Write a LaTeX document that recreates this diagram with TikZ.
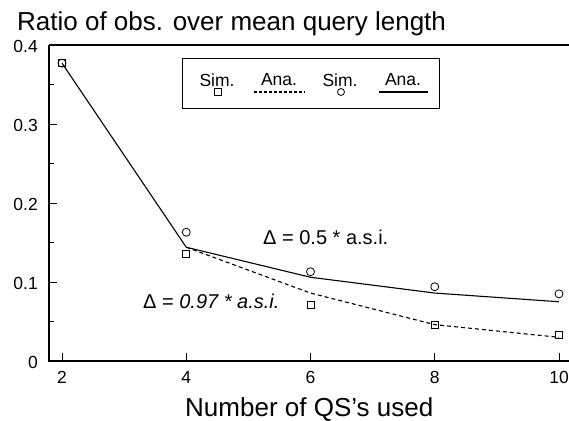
\documentclass[tikz,border=0pt]{standalone}
\usepackage{fontspec}
\setmainfont{Liberation Sans}
\begin{document}
\begin{tikzpicture}[x=1pt,y=1pt,
  lbl/.style={font=\fontsize{17.5}{20}\selectfont, inner sep=0pt},
  big/.style={font=\fontsize{26}{30}\selectfont, inner sep=0pt},
  note/.style={font=\fontsize{20}{23}\selectfont, inner sep=0pt},
  sqmark/.style={draw, rectangle, minimum size=7pt, inner sep=0pt, line width=0.8pt},
  cimark/.style={draw, circle, minimum size=8pt, inner sep=0pt, line width=0.8pt},
  anaB/.style={line width=1.1pt},
  anaA/.style={line width=1.1pt, dash pattern=on 4pt off 3pt},
  axisline/.style={line width=1.8pt},
  tickline/.style={line width=0.9pt}]
\useasboundingbox (0,0) rectangle (569,420);
\node[big, anchor=base west] (title) at (17,389) {Ratio of obs. over mean query length};
\node[big, anchor=base west] (xlab) at (185,4) {Number of QS’s used};
\begin{scope}[shift={(-62.25,59)}, x=62.125pt, y=790pt]
  \coordinate (tl) at (1.791,0.4);
  \coordinate (bl) at (1.791,0);
  \coordinate (tr) at (10.2,0.4);
  \coordinate (br) at (10.2,0);
  \draw[line width=1.3pt] (tl) -- (tr);
  \draw[axisline] (tl) -- (bl) -- (br);
  \foreach \v in {0.1,0.2,0.3} \draw[tickline] (1.791,\v) -- ++(8pt,0);
  \foreach \v in {0.05,0.15,0.25,0.35} \draw[tickline] (1.791,\v) -- ++(5pt,0);
  \foreach \x in {2,4,6,8,10} {
    \draw[tickline] (\x,0) -- ++(0,8pt);
    \node[lbl] (xt\x) at (\x,0) [yshift=-16pt] {\x};
  }
  \foreach \v/\t in {0/0,0.1/0.1,0.2/0.2,0.3/0.3,0.4/0.4}
    \node[lbl, anchor=east] (yt\t) at (1.791,\v) [xshift=-11pt, yshift=-1pt] {\t};
  % analytic curves
  \draw[anaB] plot coordinates {(2,0.377) (4,0.144) (6,0.106) (8,0.086) (10,0.075)};
  \draw[anaA] plot coordinates {(4,0.144) (6,0.086) (8,0.046) (10,0.030)};
  % simulation points
  \node[sqmark] (s2) at (2,0.377) {};
  \node[sqmark] (s4) at (4,0.135) {};
  \node[sqmark] (s6) at (6,0.071) {};
  \node[sqmark] (s8) at (8,0.046) {};
  \node[sqmark] (s10) at (10,0.033) {};
  \node[cimark] (c2) at (2,0.377) {};
  \node[cimark] (c4) at (4,0.163) {};
  \node[cimark] (c6) at (6,0.113) {};
  \node[cimark] (c8) at (8,0.094) {};
  \node[cimark] (c10) at (10,0.085) {};
\end{scope}
\node[note, anchor=west] (d1) at (263,183) {Δ = 0.5 * a.s.i.};
\node[note, anchor=west] (d2) at (143,119) {Δ = \textit{0.97 * a.s.i.}};
% legend
\node[draw, line width=1.2pt, minimum width=257pt, minimum height=50pt, inner sep=0pt, anchor=north west] (leg) at (182,362) {};
\node[lbl] (l1) at (217,340) {Sim.};
\node[sqmark, minimum size=6.5pt] (l1m) at (218,328) {};
\node[lbl] (l2) at (279,340) {Ana.};
\coordinate (l2a) at (254,328);
\coordinate (l2b) at (305,328);
\draw[anaA, dash pattern=on 3pt off 2pt] (l2a) -- (l2b);
\node[lbl] (l3) at (340,340) {Sim.};
\node[cimark, minimum size=7pt] (l3m) at (341,328) {};
\node[lbl] (l4) at (403,340) {Ana.};
\coordinate (l4a) at (379,328);
\coordinate (l4b) at (428,328);
\draw[anaB] (l4a) -- (l4b);
\end{tikzpicture}
\end{document}
